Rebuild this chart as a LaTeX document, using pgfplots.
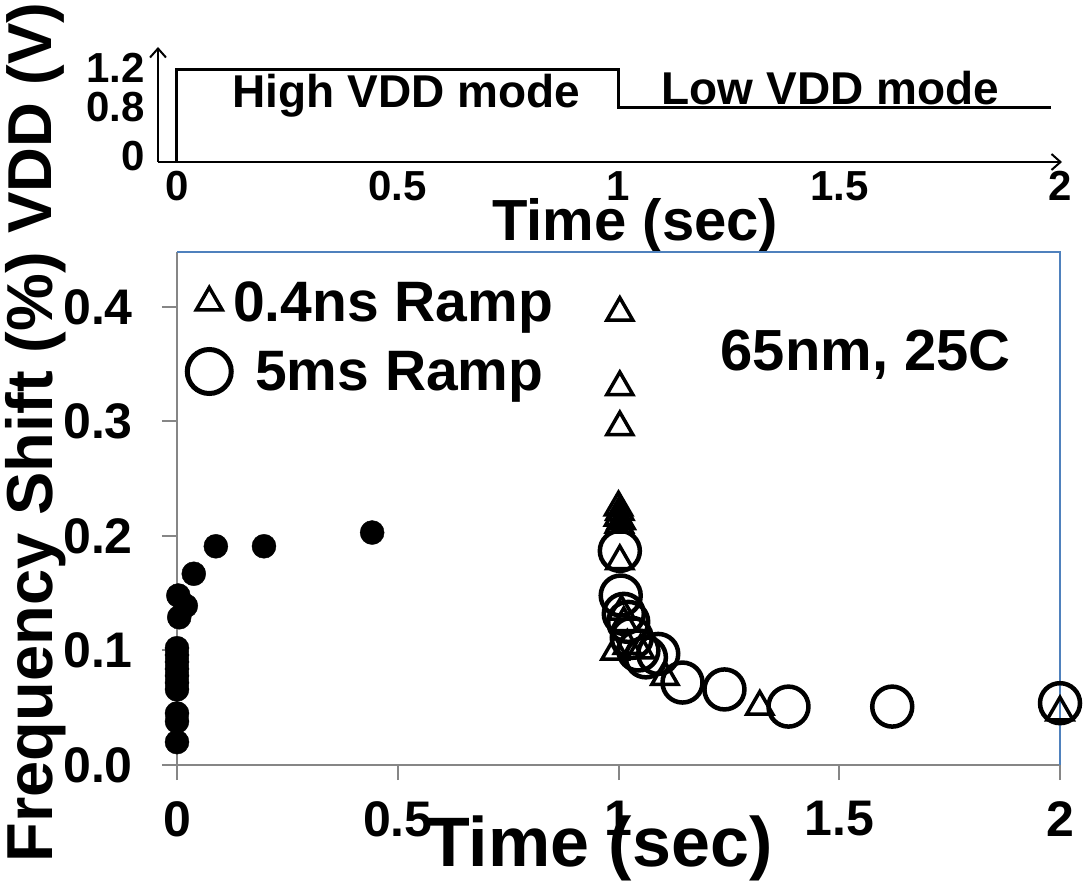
\documentclass[border=0pt]{standalone}
\usepackage{fontspec}
\setmainfont{Liberation Sans}
\usepackage{pgfplots}
\pgfplotsset{compat=1.18}
\usetikzlibrary{arrows.meta}
\definecolor{axgray}{RGB}{134,134,134}
\definecolor{frameblue}{RGB}{79,129,189}
\begin{document}
\begin{tikzpicture}[x=1pt,y=1pt]
\path[use as bounding box] (0,0) rectangle (1086,892);

% ---------------- top VDD panel ----------------
\begin{axis}[
  at={(158pt,730pt)}, anchor=south west,
  width=904pt, height=115pt, scale only axis,
  xmin=-0.043, xmax=2.0046, ymin=0, ymax=1.484,
  axis lines=left,
  axis line style={black, line width=2.5pt, -{Straight Barb[length=9pt,width=16pt,line width=2pt]}},
  xtick={0,0.5,1,1.5,2}, xticklabels={0,0.5,1,1.5,2},
  ytick={0,0.8,1.2},
  yticklabels={\raisebox{6pt}[\height][\depth]{0},\raisebox{-7pt}[\height][\depth]{0.8},\raisebox{1pt}[\height][\depth]{1.2}},
  major tick length=0pt,
  tick label style={font=\fontsize{42}{42}\selectfont\bfseries, inner sep=0pt},
  xticklabel style={anchor=north, yshift=-9pt},
  yticklabel style={anchor=east, xshift=-13pt},
  xlabel={Time (sec)}, ylabel={VDD (V)},
  xlabel style={font=\fontsize{58}{58}\selectfont\bfseries, at={(axis description cs:0.528,-0.555)}, anchor=center},
  ylabel style={font=\fontsize{62}{62}\selectfont\bfseries, at={(axis description cs:-0.135,0.38)}, anchor=center},
  clip=false,
]
\addplot[black, line width=3pt, mark=none] coordinates {(0,0) (0,1.2) (1,1.2) (1,0.7) (1.98,0.7)};
\node[font=\fontsize{46}{46}\selectfont\bfseries] at (axis cs:0.52,0.86) {High VDD mode};
\node[font=\fontsize{46}{46}\selectfont\bfseries] at (axis cs:1.48,0.96) {Low VDD mode};
\end{axis}

% ---------------- main panel ----------------
\begin{axis}[
  at={(177pt,127pt)}, anchor=south west,
  width=883pt, height=513pt, scale only axis,
  xmin=0, xmax=2, ymin=0, ymax=0.448,
  axis x line*=bottom, axis y line*=left,
  axis line style={axgray, line width=2.5pt, -},
  xtick={0,0.5,1,1.5,2}, xticklabels={0,0.5,1,1.5,2},
  ytick={0,0.1,0.2,0.3,0.4}, yticklabels={0.0,0.1,0.2,0.3,0.4},
  tick align=outside, major tick length=15pt,
  tick style={axgray, line width=2pt},
  tick label style={font=\fontsize{50}{50}\selectfont\bfseries, inner sep=0pt},
  xticklabel style={anchor=north, yshift=-21pt},
  yticklabel style={anchor=east, xshift=-29pt},
  xlabel={Time (sec)}, ylabel={Frequency Shift (\%)},
  xlabel style={font=\fontsize{70}{70}\selectfont\bfseries, at={(axis description cs:0.479,-0.162)}, anchor=center},
  ylabel style={font=\fontsize{65}{65}\selectfont\bfseries, at={(axis description cs:-0.16,0.405)}, anchor=center},
  clip=false,
  legend style={at={(axis description cs:0.008,0.95)}, anchor=north west, draw=none, fill=none,
    font=\fontsize{57}{57}\selectfont\bfseries, row sep=24pt},
  legend cell align=left,
]
\draw[frameblue, line width=1.5pt] (rel axis cs:0,1) -- (rel axis cs:1,1) -- (rel axis cs:1,0);

% filled dots (high VDD mode)
\addplot[only marks, mark=*, mark size=12pt, black, forget plot] coordinates {
 (0.442,0.203) (0.197,0.191) (0.088,0.191) (0.038,0.167) (0.020,0.139)
 (0.003,0.148) (0.005,0.129) (0,0.102) (0,0.096) (0,0.090) (0,0.084)
 (0,0.078) (0,0.072) (0,0.066) (0,0.045) (0,0.038) (0,0.020)
};
% 0.4ns ramp (triangles)
\addplot[only marks, mark=triangle, mark size=15pt, line width=3.5pt, black, forget plot] coordinates {
 (1.003,0.395) (1.003,0.330) (1.003,0.295)
 (1.000,0.225) (1.003,0.221) (1.000,0.216) (1.006,0.213) (1.002,0.210)
 (1.003,0.178) (1.007,0.134) (1.012,0.124) (0.992,0.099) (1.020,0.104)
 (1.050,0.100) (1.105,0.077) (1.320,0.051) (2.000,0.046)
};
% overlapping points near 0.22 appear as a solid blob
\addplot[only marks, mark=triangle*, mark size=13pt, black, fill=black, forget plot] coordinates {
 (1.001,0.222) (1.003,0.215)
};
% 5ms ramp (circles)
\addplot[only marks, mark=o, mark size=20pt, line width=4.5pt, black, forget plot] coordinates {
 (1.003,0.187) (1.005,0.148) (1.012,0.132) (1.022,0.125) (1.030,0.111)
 (1.045,0.100) (1.062,0.094) (1.090,0.097) (1.145,0.072) (1.240,0.066)
 (1.385,0.051) (1.620,0.051) (2.000,0.054)
};

\addlegendimage{only marks, mark=triangle, mark size=15pt, line width=3.5pt, black}
\addlegendentry{0.4ns Ramp}
\addlegendimage{only marks, mark=o, mark size=22pt, line width=5pt, black}
\addlegendentry{\hspace{22pt}5ms Ramp}

\node[font=\fontsize{58}{58}\selectfont\bfseries] at (axis cs:1.56,0.358) {65nm, 25C};
\end{axis}
\end{tikzpicture}
\end{document}
